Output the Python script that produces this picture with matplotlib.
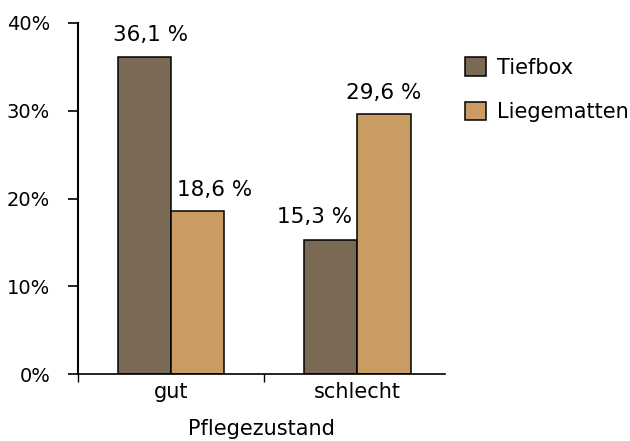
import numpy as np
import matplotlib.pyplot as plt
from matplotlib.ticker import FixedLocator

# data
categories = ["gut", "schlecht"]
series = ["Tiefbox", "Liegematten"]
tiefbox = [36.1, 15.3]
liegematten = [18.6, 29.6]
labels_tief = ["36,1 %", "15,3 %"]
labels_liege = ["18,6 %", "29,6 %"]

col_tief = "#7a6a55"
col_liege = "#c99c64"

plt.rcParams['font.family'] = ['DejaVu Sans']
fig = plt.figure(figsize=(6.3, 4.41), dpi=100)
ax = fig.add_axes([78/630, 1-374/441, (445-78)/630, (374-23)/441])

x = np.arange(len(categories))
w = 0.285
b1 = ax.bar(x - w/2, tiefbox, w, color=col_tief, edgecolor="black", linewidth=1.1, label=series[0])
b2 = ax.bar(x + w/2, liegematten, w, color=col_liege, edgecolor="black", linewidth=1.1, label=series[1])

# value labels, small horizontal shifts (points) as in the original
shift_tief = [4, -12]
shift_liege = [12, 0]
for rect, lab, dx in zip(b1, labels_tief, shift_tief):
    ax.annotate(lab, (rect.get_x() + rect.get_width()/2, rect.get_height()),
                xytext=(dx, 9), textcoords="offset points",
                ha="center", va="bottom", fontsize=15.5)
for rect, lab, dx in zip(b2, labels_liege, shift_liege):
    ax.annotate(lab, (rect.get_x() + rect.get_width()/2, rect.get_height()),
                xytext=(dx, 8), textcoords="offset points",
                ha="center", va="bottom", fontsize=15.5)

ax.set_xlim(-0.5, 1.47)
ax.set_ylim(0, 40)
ax.set_yticks([0, 10, 20, 30, 40])
ax.set_yticklabels(["0%", "10%", "20%", "30%", "40%"], fontsize=14)
ax.set_xticks(x)
ax.set_xticklabels(categories, fontsize=15)
ax.tick_params(axis="x", length=0, pad=6)
ax.tick_params(axis="y", length=7, width=1.2, pad=13)
# category boundary ticks
ax.xaxis.set_minor_locator(FixedLocator([-0.5, 0.5]))
ax.tick_params(axis="x", which="minor", length=6, width=1)

for s in ["top", "right"]:
    ax.spines[s].set_visible(False)
ax.spines["left"].set_linewidth(1.5)
ax.spines["bottom"].set_linewidth(1.2)

ax.set_xlabel("Pflegezustand", fontsize=15, labelpad=12)

ax.legend(loc="upper left", bbox_to_anchor=(457/630, 1-49/441), bbox_transform=fig.transFigure,
          frameon=False, fontsize=15, handlelength=1.0, handleheight=1.0,
          handletextpad=0.5, labelspacing=1.15, borderaxespad=0)

fig.savefig("out.png", dpi=100)
